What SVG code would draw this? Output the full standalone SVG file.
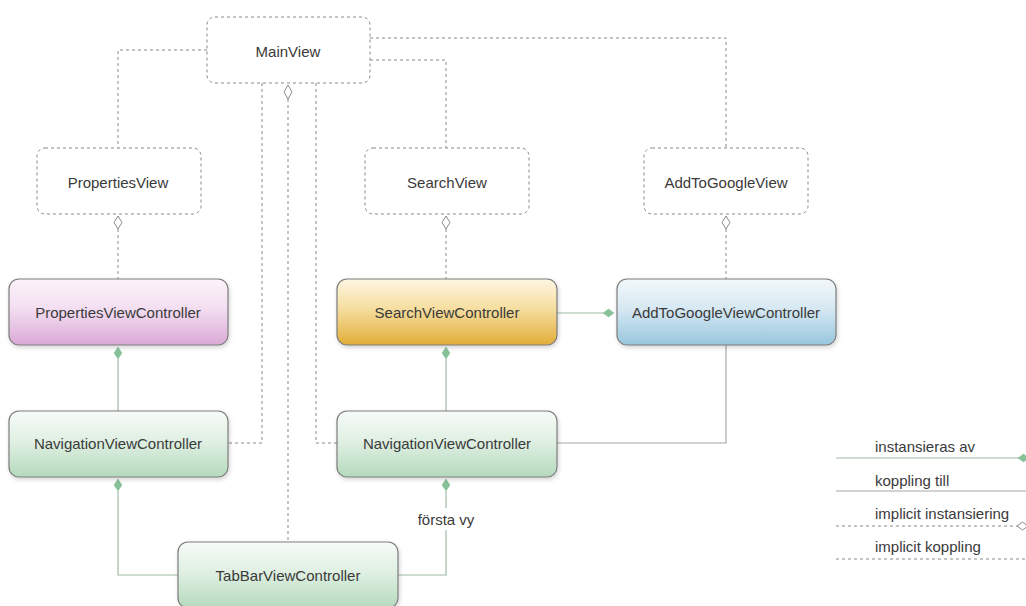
<svg xmlns="http://www.w3.org/2000/svg" width="1026" height="606" viewBox="0 0 1026 606">
<defs>
<linearGradient id="gPink" x1="0" y1="0" x2="0" y2="1">
<stop offset="0" stop-color="#fbf4fa"/><stop offset="0.45" stop-color="#f3def1"/><stop offset="1" stop-color="#d9a9d6"/>
</linearGradient>
<linearGradient id="gOrange" x1="0" y1="0" x2="0" y2="1">
<stop offset="0" stop-color="#fdf6e2"/><stop offset="0.45" stop-color="#f5dea0"/><stop offset="1" stop-color="#e2ad38"/>
</linearGradient>
<linearGradient id="gBlue" x1="0" y1="0" x2="0" y2="1">
<stop offset="0" stop-color="#f3f8fb"/><stop offset="0.45" stop-color="#d6e8f2"/><stop offset="1" stop-color="#98c6de"/>
</linearGradient>
<linearGradient id="gGreen" x1="0" y1="0" x2="0" y2="1">
<stop offset="0" stop-color="#f6fbf7"/><stop offset="0.45" stop-color="#e0f0e3"/><stop offset="1" stop-color="#b4dabd"/>
</linearGradient>
<filter id="sh" x="-10%" y="-10%" width="130%" height="140%">
<feDropShadow dx="1" dy="2" stdDeviation="2" flood-color="#000" flood-opacity="0.18"/>
</filter>
</defs>
<style>
.view{fill:#fff;stroke:#8a8a8a;stroke-width:1;stroke-dasharray:3 3}
.ctrl{stroke:#7c7c7c;stroke-width:1.2;filter:url(#sh)}
.t{font-family:"Liberation Sans",Arial,sans-serif;font-size:15px;fill:#3a3a3a;text-anchor:middle}
.lt{font-family:"Liberation Sans",Arial,sans-serif;font-size:15px;fill:#3a3a3a}
.dash{fill:none;stroke:#8a8a8a;stroke-width:1;stroke-dasharray:3 3}
.solid{fill:none;stroke:#9fb9a5;stroke-width:1.2}
.gray{fill:none;stroke:#a8a8a8;stroke-width:1.2}
.hd{fill:#fff;stroke:#8a8a8a;stroke-width:1}
.fd{fill:#88c098;stroke:#88c098;stroke-width:0.5}
</style>
<rect width="1026" height="606" fill="#fff"/>

<g id="connectors">
<polyline class="dash" points="207,50 118,50 118,148"/>
<polyline class="dash" points="370,60 446,60 446,148"/>
<polyline class="dash" points="370,38 726,38 726,148"/>
<polyline class="dash" points="262,83 262,443 228,443"/>
<polyline class="dash" points="288,99 288,542"/>
<polyline class="dash" points="316,83 316,443 337,443"/>
<polygon class="hd" points="288,85 292,92 288,99 284,92"/>
<line class="dash" x1="118" y1="229" x2="118" y2="279"/>
<line class="dash" x1="446" y1="229" x2="446" y2="279"/>
<line class="dash" x1="726" y1="229" x2="726" y2="279"/>
<polygon class="hd" points="118,216 122,222.5 118,229 114,222.5"/>
<polygon class="hd" points="446,216 450,222.5 446,229 442,222.5"/>
<polygon class="hd" points="726,216 730,222.5 726,229 722,222.5"/>
<line class="solid" x1="118" y1="359" x2="118" y2="411"/>
<polygon class="fd" points="118,347 122,353 118,359 114,353"/>
<line class="solid" x1="446" y1="359" x2="446" y2="411"/>
<polygon class="fd" points="446,347 450,353 446,359 442,353"/>
<line class="solid" x1="557" y1="313" x2="603" y2="313"/>
<polygon class="fd" points="603,313 608.5,309 614,313 608.5,317"/>
<polyline class="gray" points="726,345 726,443 557,443"/>
<polyline class="solid" points="118,491 118,575 178,575"/>
<polygon class="fd" points="118,479 122,485 118,491 114,485"/>
<polyline class="solid" points="446,491 446,575 398,575"/>
<polygon class="fd" points="446,479 450,485 446,491 442,485"/>
<rect x="412" y="508" width="68" height="22" fill="#fff"/>
<text class="t" x="446" y="525">första vy</text>
</g>

<g id="MainView">
<rect class="view" x="207" y="17" width="163" height="66" rx="8"/>
<text class="t" x="288" y="57">MainView</text>
</g>
<g id="PropertiesView">
<rect class="view" x="37" y="148" width="164" height="66" rx="8"/>
<text class="t" x="118" y="188">PropertiesView</text>
</g>
<g id="SearchView">
<rect class="view" x="365" y="148" width="164" height="66" rx="8"/>
<text class="t" x="447" y="188">SearchView</text>
</g>
<g id="AddToGoogleView">
<rect class="view" x="644" y="148" width="164" height="66" rx="8"/>
<text class="t" x="726" y="188">AddToGoogleView</text>
</g>

<g id="PropertiesViewController">
<rect class="ctrl" x="9" y="279" width="219" height="66" rx="10" fill="url(#gPink)"/>
<text class="t" x="118" y="318">PropertiesViewController</text>
</g>
<g id="SearchViewController">
<rect class="ctrl" x="337" y="279" width="220" height="66" rx="10" fill="url(#gOrange)"/>
<text class="t" x="447" y="318">SearchViewController</text>
</g>
<g id="AddToGoogleViewController">
<rect class="ctrl" x="617" y="279" width="219" height="66" rx="10" fill="url(#gBlue)"/>
<text class="t" x="726" y="318">AddToGoogleViewController</text>
</g>
<g id="NavigationViewController1">
<rect class="ctrl" x="9" y="411" width="219" height="66" rx="10" fill="url(#gGreen)"/>
<text class="t" x="118" y="449">NavigationViewController</text>
</g>
<g id="NavigationViewController2">
<rect class="ctrl" x="337" y="411" width="220" height="66" rx="10" fill="url(#gGreen)"/>
<text class="t" x="447" y="449">NavigationViewController</text>
</g>
<g id="TabBarViewController">
<rect class="ctrl" x="178" y="542" width="220" height="66" rx="10" fill="url(#gGreen)"/>
<text class="t" x="288" y="581">TabBarViewController</text>
</g>

<g id="legend">
<text class="lt" x="875" y="452">instansieras av</text>
<line class="solid" x1="836" y1="458" x2="1020" y2="458"/>
<polygon class="fd" points="1018,458 1023.5,454 1029,458 1023.5,462"/>
<text class="lt" x="875" y="486">koppling till</text>
<line class="gray" x1="836" y1="491" x2="1026" y2="491"/>
<text class="lt" x="875" y="519">implicit instansiering</text>
<line class="dash" x1="836" y1="526" x2="1017" y2="526"/>
<polygon class="hd" points="1017,526 1022.5,522 1028,526 1022.5,530"/>
<text class="lt" x="875" y="552">implicit koppling</text>
<line class="dash" x1="836" y1="559" x2="1026" y2="559"/>
</g>
</svg>
